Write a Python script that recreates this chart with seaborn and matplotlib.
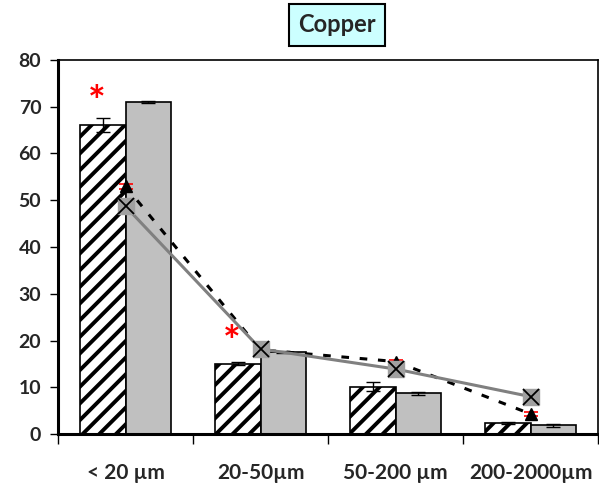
import matplotlib
matplotlib.use("Agg")
import matplotlib.pyplot as plt
import seaborn as sns
import numpy as np
import pandas as pd

categories = ["< 20 µm", "20-50µm", "50-200 µm", "200-2000µm"]
hatched_vals = [66.2, 15.0, 10.1, 2.3]
hatched_err = [1.5, 0.3, 1.0, 0.2]
grey_vals = [71.0, 17.5, 8.7, 1.9]
grey_err = [0.2, 0.2, 0.3, 0.3]
tri_vals = [53.0, 18.0, 15.5, 4.3]
tri_err = [0.5, 0.3, 0.4, 0.4]
xsq_vals = [48.7, 18.2, 13.9, 8.0]
star_cats = [0, 1]
star_vals = [70.5, 19.2]

sns.set_theme(style="white")
plt.rcParams["font.family"] = ["Lato", "DejaVu Sans"]
plt.rcParams["hatch.linewidth"] = 2.8

fig = plt.figure(figsize=(5.99, 4.86), dpi=100)
ax = fig.add_axes([58/599, 52/486, 540/599, 374/486])

df = pd.DataFrame({
    "cat": categories * 2,
    "val": hatched_vals + grey_vals,
    "grp": ["A"] * 4 + ["B"] * 4,
})
sns.barplot(data=df, x="cat", y="val", hue="grp", order=categories,
            palette={"A": "white", "B": "#c0c0c0"}, width=0.667,
            errorbar=None, edgecolor="black", linewidth=1.2, legend=False, ax=ax)

x = np.arange(len(categories))
for p in ax.patches:
    if abs(p.get_facecolor()[0] - 1.0) < 1e-3:
        p.set_hatch("//")
bw = 0.333
ax.errorbar(x - bw/2, hatched_vals, yerr=hatched_err, fmt="none", ecolor="black",
            elinewidth=1, capsize=5, capthick=1, zorder=5)
ax.errorbar(x + bw/2, grey_vals, yerr=grey_err, fmt="none", ecolor="black",
            elinewidth=1, capsize=5, capthick=1, zorder=5)

# dashed black line with triangles
ax.plot(x, tri_vals, color="black", lw=2.2, ls=(0, (2.5, 3.5)), zorder=6)
ax.errorbar(x, tri_vals, yerr=tri_err, fmt="none", ecolor="red", elinewidth=1,
            capsize=5, capthick=1.2, zorder=6)
ax.plot(x, tri_vals, ls="none", marker="^", ms=9, color="black", zorder=7)

# grey solid line with square-x markers
ax.plot(x, xsq_vals, color="#808080", lw=2.2, zorder=8)
ax.plot(x, xsq_vals, ls="none", marker="s", ms=12, mfc="#a0a0a0", mec="#a0a0a0", zorder=9)
ax.plot(x, xsq_vals, ls="none", marker="x", ms=11, mew=1.3, color="black", zorder=10)

for c, v in zip(star_cats, star_vals):
    ax.text(c - bw/2 - 0.05, v, "*", color="red", fontsize=30, fontweight="bold",
            ha="center", va="center", zorder=11)

ax.set_xlim(-0.5, 3.5)
ax.set_ylim(0, 80)
ax.set_yticks(range(0, 81, 10))
ax.set_xticks(x)
ax.set_xticklabels(categories, fontsize=15, fontweight="bold")
ax.set_xticks([-0.5, 0.5, 1.5, 2.5, 3.5], minor=True)
ax.tick_params(axis="x", which="major", length=0, pad=21)
ax.tick_params(axis="x", which="minor", length=7, width=1, direction="out", color="black", bottom=True)
ax.tick_params(axis="y", length=6, width=1, direction="out", color="black", left=True,
               labelsize=14, pad=6)
for lbl in ax.get_yticklabels():
    lbl.set_fontweight("bold")
ax.set_xlabel("")
ax.set_ylabel("")
for s in ["left", "bottom"]:
    ax.spines[s].set_linewidth(2.2)
    ax.spines[s].set_color("black")
for s in ["top", "right"]:
    ax.spines[s].set_linewidth(1.2)
    ax.spines[s].set_color("black")

fig.text(337/599, 1 - 25/486, "Copper", ha="center", va="center", fontsize=17,
         fontweight="bold",
         bbox=dict(boxstyle="square,pad=0.4", fc="#ccffff", ec="black", lw=1.5))

fig.savefig("out.png", dpi=100)
